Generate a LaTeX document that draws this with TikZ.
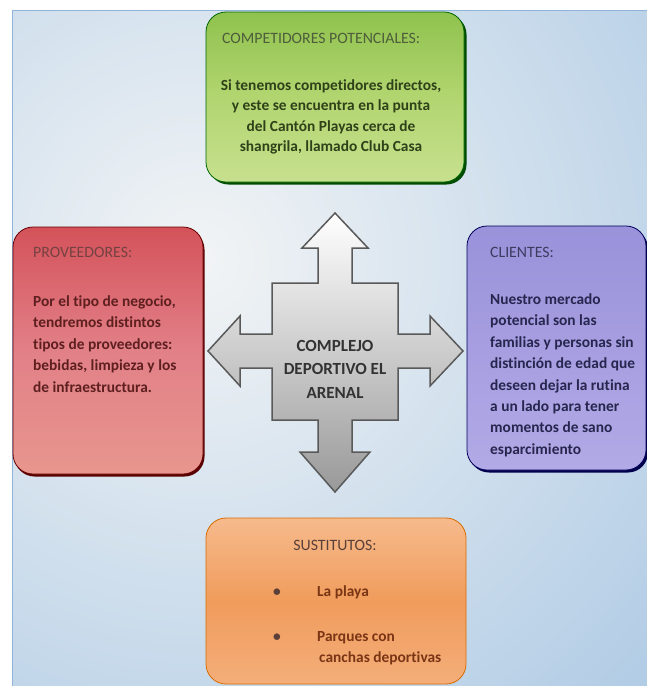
\documentclass[tikz,border=0pt]{standalone}
\usepackage{fontspec}
\setmainfont{Carlito}[Ligatures=NoCommon]
\usetikzlibrary{calc,positioning,shadows}

\definecolor{bgblue}{HTML}{A4C4E2}
\definecolor{bglight}{HTML}{F2F4F5}
\definecolor{bgline}{HTML}{8FB3D9}
\definecolor{greentop}{HTML}{8FC24E}
\definecolor{greenmid}{HTML}{B2D570}
\definecolor{greenbot}{HTML}{C7E08E}
\definecolor{redtop}{HTML}{D4525A}
\definecolor{redmid}{HTML}{E28088}
\definecolor{redbot}{HTML}{E8968E}
\definecolor{violettop}{HTML}{9A92DA}
\definecolor{violetmid}{HTML}{A69EE0}
\definecolor{violetbot}{HTML}{B2AAE6}
\definecolor{orangetop}{HTML}{F6BA8C}
\definecolor{orangemid}{HTML}{F09C5C}
\definecolor{orangebot}{HTML}{F4AE7A}
\definecolor{comptxt}{HTML}{2F4119}
\definecolor{provtxt}{HTML}{5E1F1F}
\definecolor{clitxt}{HTML}{26264F}
\definecolor{susttxt}{HTML}{7A3515}
\definecolor{susttitle}{HTML}{5A4038}
\definecolor{hubtxt}{HTML}{333333}

\begin{document}
\begin{tikzpicture}[
    x=1pt,y=-1pt,
    box/.style={rounded corners=20pt,line width=0.8pt},
    compbox/.style={box,draw=green!40!black,top color=greentop,bottom color=greenbot,middle color=greenmid,
      drop shadow={shadow xshift=2.5pt,shadow yshift=-2.5pt,fill=green!30!black,opacity=1}},
    provbox/.style={box,draw=red!40!black,top color=redtop,bottom color=redbot,middle color=redmid,
      drop shadow={shadow xshift=1.5pt,shadow yshift=-2.5pt,fill=red!35!black,opacity=1}},
    clibox/.style={box,draw=blue!35!black,top color=violettop,bottom color=violetbot,middle color=violetmid,
      drop shadow={shadow xshift=2pt,shadow yshift=-2.5pt,fill=blue!30!black,opacity=1}},
    sustbox/.style={box,draw=orange!85!black,top color=orangetop,bottom color=orangebot,middle color=orangemid},
    quad/.style={draw=black!65,line width=1.5pt,line join=miter,top color=white,bottom color=black!40},
    titletext/.style={inner sep=0pt,font=\fontsize{15.8}{21.4}\selectfont},
    bodytext/.style={inner sep=0pt,font=\bfseries\fontsize{15.4}{21.4}\selectfont},
    hubtext/.style={inner sep=0pt,font=\bfseries\fontsize{17}{24}\selectfont,text=hubtxt},
  ]

  \useasboundingbox (0,0) rectangle (647,686);

  % background

  \fill[white] (0,0) rectangle (647,686);
  \begin{scope}
    \clip (12,10) rectangle (647,686);
    \fill[bgblue] (12,10) rectangle (647,686);
    \shade[inner color=bglight,outer color=bgblue] (200,260) circle (740);
  \end{scope}
  \draw[bgline] (12,686) -- (12,10) -- (647,10);

  % the four boxes

  \node (comp) at (335,97) [compbox,minimum width=258pt,minimum height=170pt] {};
  \node (prov) at (108,350.5) [provbox,minimum width=190pt,minimum height=247pt] {};
  \node (cli) at (556.5,348) [clibox,minimum width=179pt,minimum height=244pt] {};
  \node (sust) at (336,601) [sustbox,minimum width=260pt,minimum height=166pt] {};

  % quad arrow in the middle

  \path[quad] (335,213) -- (368,248) -- (352,248) -- (352,283) -- (398,283) -- (398,334)
    -- (430,334) -- (430,316) -- (463,351) -- (430,386) -- (430,368) -- (398,368)
    -- (398,420) -- (352,420) -- (352,452) -- (370,452) -- (335,492) -- (300,452)
    -- (318,452) -- (318,420) -- (272,420) -- (272,368) -- (240,368) -- (240,386)
    -- (208,351) -- (240,316) -- (240,334) -- (272,334) -- (272,283) -- (318,283)
    -- (318,248) -- (302,248) -- cycle;

  \foreach \l [count=\i from 0] in {COMPLEJO,DEPORTIVO EL,ARENAL}
    \node (hub-\i) at (335,351+23.5*\i) [hubtext,anchor=base] {\l};

  % competidores potenciales

  \node (comp-t) at (222,43) [titletext,anchor=base west,text=comptxt!85] {COMPETIDORES POTENCIALES:};
  \foreach \l [count=\i from 0] in {{Si tenemos competidores directos,},y este se encuentra en la punta,
      del Cantón Playas cerca de,{shangrila, llamado Club Casa}}
    \node (comp-\i) at (331,90.5+20.4*\i) [bodytext,anchor=base,text=comptxt] {\l};

  % proveedores

  \node (prov-t) at (33,257) [titletext,anchor=base west,text=provtxt!85] {PROVEEDORES:};
  \foreach \l [count=\i from 0] in {{Por el tipo de negocio,},tendremos distintos,tipos de proveedores:,
      {bebidas, limpieza y los},de infraestructura.}
    \node (prov-\i) at (33,306.5+21.4*\i) [bodytext,anchor=base west,text=provtxt] {\l};

  % clientes

  \node (cli-t) at (490,257) [titletext,anchor=base west,text=clitxt!90] {CLIENTES:};
  \foreach \l [count=\i from 0] in {Nuestro mercado,potencial son las,familias y personas sin,
      distinción de edad que,deseen dejar la rutina,a un lado para tener,momentos de sano,esparcimiento}
    \node (cli-\i) at (490,304.5+21.4*\i) [bodytext,anchor=base west,text=clitxt] {\l};

  % sustitutos

  \node (sust-t) at (335,550) [titletext,anchor=base,text=susttitle] {SUSTITUTOS:};
  \node (bul-0) at (277,596.5) [bodytext,anchor=base,text=susttitle] {\textbullet};
  \node (bul-1) at (277,641.5) [bodytext,anchor=base,text=susttitle] {\textbullet};
  \node (sust-0) at (317,596.5) [bodytext,anchor=base west,text=susttxt] {La playa};
  \node (sust-1) at (317,641.5) [bodytext,anchor=base west,text=susttxt] {Parques con};
  \node (sust-2) at (319,662.5) [bodytext,anchor=base west,text=susttxt] {canchas deportivas};

\end{tikzpicture}
\end{document}
